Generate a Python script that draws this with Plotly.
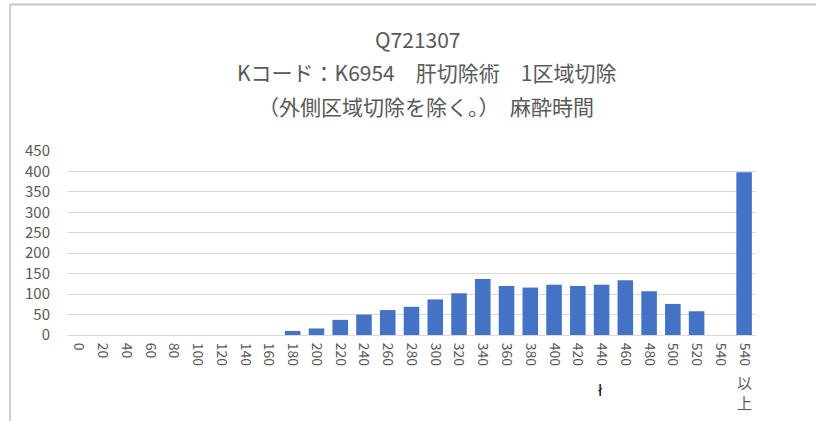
import plotly.graph_objects as go

categories = ["0", "20", "40", "60", "80", "100", "120", "140", "160", "180", "200",
              "220", "240", "260", "280", "300", "320", "340", "360", "380", "400",
              "420", "440", "460", "480", "500", "520", "540", "540以上"]
values = [0, 0, 0, 0, 0, 0, 0, 0, 0, 10, 16, 37, 50, 61, 69, 87, 102, 137, 120, 116,
          123, 120, 123, 134, 107, 76, 58, 0, 398]
y_ticks = [0, 50, 100, 150, 200, 250, 300, 350, 400, 450]
title_lines = ["Q721307", "Kコード：K6954　肝切除術　1区域切除", "（外側区域切除を除く。）　麻酔時間"]

FONT = "Noto Sans CJK JP"
GRAY = "#595959"

L, R, T, B = 67, 756, 151, 335
W, H = R - L, B - T

def px(x):
    return (x - L) / W

def py(y):
    return (B - y) / H

ticktext = [c if c != "540以上" else "540" for c in categories]

fig = go.Figure(go.Bar(x=categories, y=values, marker_color="#4472C4", marker_line_width=0))

annotations = []
for txt, yy, xx in zip(title_lines, [39, 72, 106], [418, 426, 426]):
    annotations.append(dict(text=txt, x=px(xx), y=py(yy), xref="paper", yref="paper",
                            showarrow=False, xanchor="center", yanchor="middle",
                            font=dict(family=FONT, size=21, color=GRAY)))
annotations.append(dict(text="以<br>上", x=categories[-1], y=py(392), xref="x", yref="paper",
                        showarrow=False, xanchor="center", yanchor="middle",
                        font=dict(family=FONT, size=15, color=GRAY)))
annotations.append(dict(text="ł", x=px(600), y=py(391), xref="paper", yref="paper",
                        showarrow=False, xanchor="center", yanchor="middle",
                        font=dict(family="DejaVu Sans", size=15, color="#000000")))

shapes = [
    dict(type="line", xref="paper", yref="paper", x0=px(10), x1=px(10), y0=py(4), y1=py(425),
         line=dict(color="#cfcfcf", width=2)),
    dict(type="line", xref="paper", yref="paper", x0=px(10), x1=px(820), y0=py(4.5), y1=py(4.5),
         line=dict(color="#c8c8c8", width=2)),
]

fig.update_layout(
    width=816, height=421,
    margin=dict(l=L, r=816 - R, t=T, b=421 - B),
    paper_bgcolor="white", plot_bgcolor="white",
    bargap=0.345,
    showlegend=False,
    annotations=annotations,
    shapes=shapes,
    font=dict(family=FONT, color=GRAY),
)
fig.update_xaxes(
    type="category", tickmode="array", tickvals=categories, ticktext=ticktext,
    tickangle=90, tickfont=dict(family=FONT, size=14, color=GRAY),
    showgrid=False, showline=True, linecolor="#d9d9d9", linewidth=1, ticks="",
    ticklabelstandoff=4,
)
fig.update_yaxes(
    range=[0, 450], tickvals=y_ticks, tickfont=dict(family=FONT, size=15, color=GRAY),
    showgrid=True, gridcolor="#d9d9d9", gridwidth=1, zeroline=False, showline=False,
    ticks="", ticklabelstandoff=16,
)

fig.write_html("out.html", config={"displayModeBar": False},
               post_script="document.body.style.margin='0';document.body.style.overflow='hidden';")
